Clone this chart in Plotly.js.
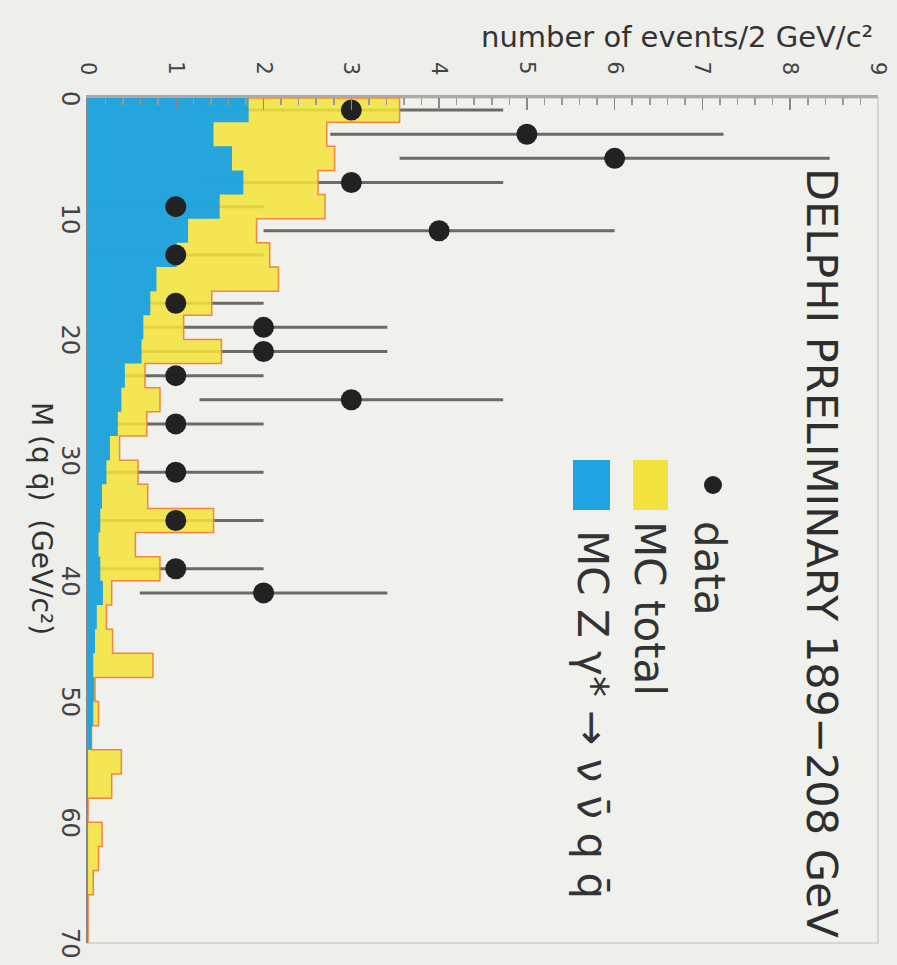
<!DOCTYPE html>
<html>
<head>
<meta charset="utf-8">
<script src="https://cdn.plot.ly/plotly-3.0.1.min.js"></script>
<style>html,body{margin:0;padding:0;background:#eeeeea;}#chart{width:897px;height:965px;}</style>
</head>
<body>
<div id="chart"></div>
<script>
// M(q qbar) bin lower edges, GeV/c^2 (2 GeV bins, 0..70)
const binEdges = [0,2,4,6,8,10,12,14,16,18,20,22,24,26,28,30,32,34,36,38,40,42,44,46,48,50,52,54,56,58,60,62,64,66,68];
const binEnd = 70;
// MC total (yellow)
const mcTotal = [3.55,2.72,2.81,2.62,2.70,1.92,2.07,2.17,1.41,1.09,1.52,0.65,0.82,0.67,0.36,0.57,0.68,1.43,0.54,0.82,0.27,0.21,0.28,0.74,0.08,0.12,0.04,0.38,0.27,0,0.16,0.12,0.06,0,0];
// MC Z gamma* -> nu nubar q qbar (blue)
const mcZg = [1.83,1.43,1.64,1.77,1.50,1.14,1.01,0.78,0.71,0.63,0.61,0.42,0.38,0.34,0.25,0.21,0.16,0.14,0.12,0.14,0.17,0.10,0.08,0.06,0.07,0.06,0.04,0,0,0,0,0,0,0,0];
// data
const dataM = [1,3,5,7,9,11,13,17,19,21,23,25,27,31,35,39,41];
const dataN = [3,5,6,3,1,4,1,1,2,2,1,3,1,1,1,1,2];
const dataErr = [1.73,2.24,2.45,1.73,1,2,1,1,1.41,1.41,1,1.73,1,1,1,1,1.41];
const xTicks = [0,1,2,3,4,5,6,7,8,9];
const yTicks = [0,10,20,30,40,50,60,70];

function stepPath(vals){
  return {x:[0].concat(vals,[0]), y:[binEdges[0]].concat(binEdges,[binEnd])};
}
const pT = stepPath(mcTotal), pZ = stepPath(mcZg);

const traces = [
  // error bars (drawn beneath the histograms)
  {type:'scatter', mode:'markers', x:dataN, y:dataM,
   error_x:{type:'data', array:dataErr, symmetric:true, color:'#6a6a6a', thickness:3, width:0},
   marker:{color:'rgba(0,0,0,0)', size:1}, hoverinfo:'skip', showlegend:false},
  {type:'scatter', mode:'lines', x:pT.x, y:pT.y, line:{shape:'vh', color:'#f0883c', width:1.5},
   fill:'tozerox', fillcolor:'rgba(244,227,58,0.86)', hoverinfo:'skip', showlegend:false},
  {type:'scatter', mode:'lines', x:pZ.x, y:pZ.y, line:{shape:'vh', color:'rgba(0,0,0,0)', width:0},
   fill:'tozerox', fillcolor:'rgba(26,160,228,0.95)', hoverinfo:'skip', showlegend:false},
  // data points
  {type:'scatter', mode:'markers', x:dataN, y:dataM,
   marker:{color:'#222', size:21}, showlegend:false}
];

const F = 'DejaVu Sans, Arial, sans-serif';
const px = x => (x-88)/790, py = y => 1-(y-98)/845;

const anns = [
  {text:'DELPHI PRELIMINARY 189\u2212208 GeV', xref:'paper', yref:'paper', x:px(822), y:py(553),
   xanchor:'center', yanchor:'middle', textangle:90, showarrow:false, font:{family:F, size:43, color:'#2e2e2e'}},
  {text:'data', xref:'paper', yref:'paper', x:px(710), y:py(568), xanchor:'center', yanchor:'middle',
   textangle:90, showarrow:false, font:{family:F, size:42, color:'#333'}},
  {text:'MC total', xref:'paper', yref:'paper', x:px(650), y:py(608), xanchor:'center', yanchor:'middle',
   textangle:90, showarrow:false, font:{family:F, size:42, color:'#333'}},
  {text:'MC Z \u03b3* \u2192 \u03bd \u03bd\u0304 q q\u0304', xref:'paper', yref:'paper', x:px(593), y:py(714),
   xanchor:'center', yanchor:'middle', textangle:90, showarrow:false, font:{family:F, size:42, color:'#333'}},
  {text:'number of events/2 GeV/c\u00b2', xref:'paper', yref:'paper', x:px(875), y:py(37),
   xanchor:'right', yanchor:'middle', showarrow:false, font:{family:F, size:29, color:'#333'}},
  {text:'M (q q\u0304)  (GeV/c\u00b2)', xref:'paper', yref:'paper', x:px(42), y:py(518),
   xanchor:'center', yanchor:'middle', textangle:90, showarrow:false, font:{family:F, size:28, color:'#333'}}
];
xTicks.forEach(v => anns.push({text:String(v), xref:'x', yref:'paper', x:v, y:py(68),
  xanchor:'center', yanchor:'middle', textangle:90, showarrow:false, font:{family:F, size:21, color:'#444'}}));
yTicks.forEach(v => anns.push({text:String(v), xref:'paper', yref:'y', x:px(70), y:v,
  xanchor:'center', yanchor:'middle', textangle:90, showarrow:false, font:{family:F, size:24, color:'#444'}}));

const layout = {
  width:897, height:965,
  margin:{l:88, r:19, t:98, b:22},
  paper_bgcolor:'#eeeeea', plot_bgcolor:'#f0f0ec',
  showlegend:false,
  xaxis:{range:[0,9], side:'top', tickvals:xTicks, showticklabels:false,
    ticks:'inside', ticklen:12, tickwidth:1.5, tickcolor:'#888',
    minor:{dtick:0.2, ticks:'inside', ticklen:7, tickcolor:'#999'},
    showline:true, linecolor:'#aaa', linewidth:3, showgrid:false, zeroline:false},
  yaxis:{range:[70,0], tickvals:yTicks, showticklabels:false,
    ticks:'', showline:true, linecolor:'#888', linewidth:2, showgrid:false, zeroline:false},
  shapes:[
    {type:'rect', xref:'paper', yref:'paper', x0:0, x1:1, y0:0, y1:1, line:{color:'#d6d6d2', width:2}, layer:'below'},
    {type:'rect', xref:'paper', yref:'paper', x0:px(633), x1:px(668), y0:py(510), y1:py(460), fillcolor:'#f3e23e', line:{width:0}},
    {type:'rect', xref:'paper', yref:'paper', x0:px(573), x1:px(610), y0:py(510), y1:py(460), fillcolor:'#1fa3e3', line:{width:0}},
    {type:'circle', xref:'paper', yref:'paper', xsizemode:'pixel', ysizemode:'pixel',
     xanchor:px(713), yanchor:py(485), x0:-9, x1:9, y0:-9, y1:9, fillcolor:'#222', line:{width:0}}
  ],
  annotations:anns
};

Plotly.newPlot('chart', traces, layout, {displayModeBar:false, staticPlot:true});
</script>
</body>
</html>
